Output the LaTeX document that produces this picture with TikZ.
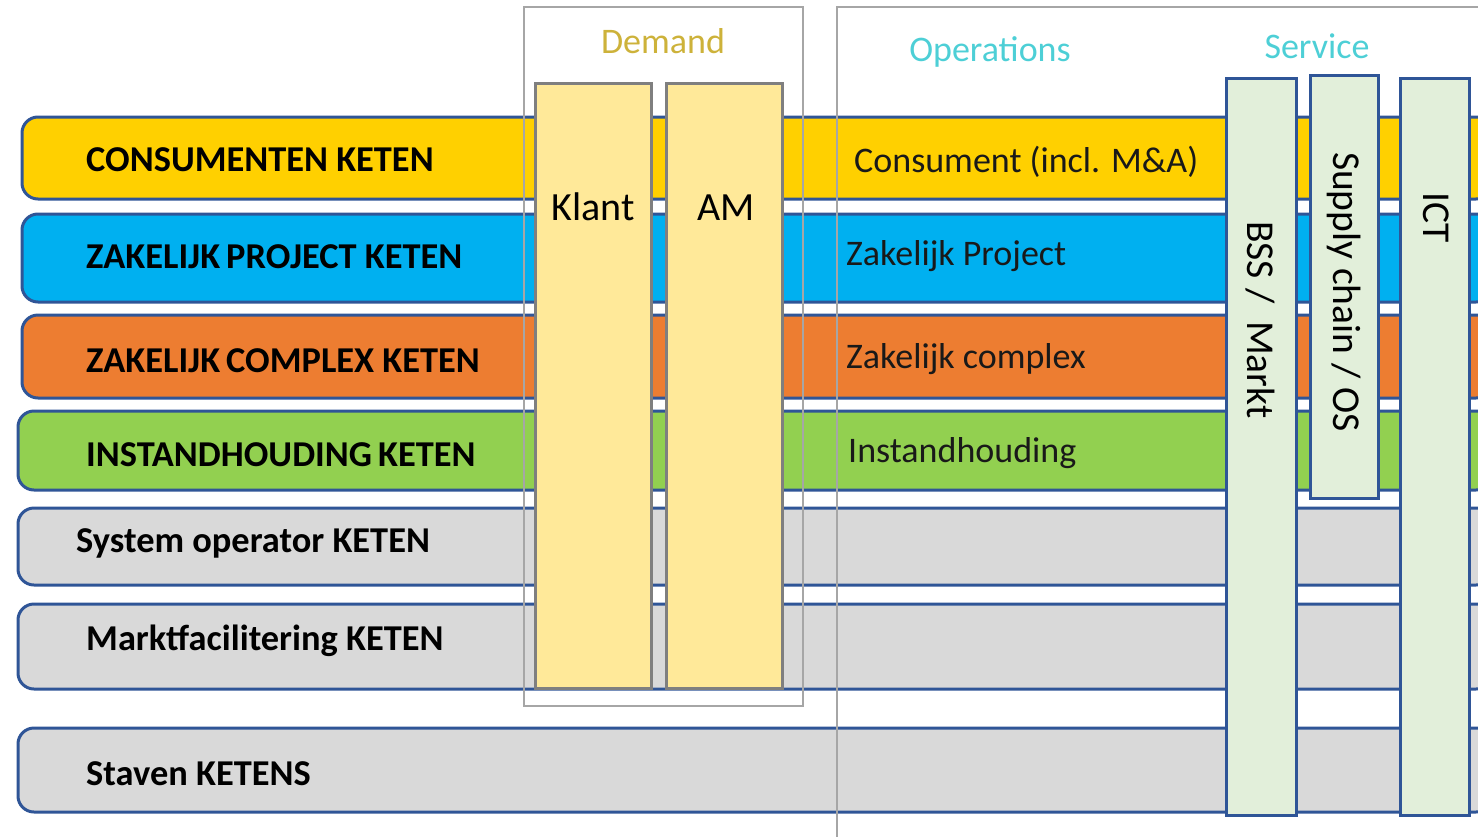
\documentclass[tikz,border=0pt]{standalone}
\usepackage{fontspec}
\setmainfont{Carlito}
\definecolor{bandline}{HTML}{2F5597}
\definecolor{cyel}{HTML}{FFD000}
\definecolor{cblue}{HTML}{00B0F0}
\definecolor{corange}{HTML}{ED7D31}
\definecolor{cgreen}{HTML}{92D050}
\definecolor{cgrey}{HTML}{D9D9D9}
\definecolor{klantfill}{HTML}{FFE999}
\definecolor{klantline}{HTML}{7F7F7F}
\definecolor{servfill}{HTML}{E2EFDA}
\definecolor{thinline}{HTML}{A6A6A6}
\definecolor{demandtxt}{HTML}{CDB23A}
\definecolor{opstxt}{HTML}{4DCFD6}
\newcommand\myfs[1]{\fontsize{#1}{#1}\selectfont}
\begin{document}
\begin{tikzpicture}[x=1pt,y=-1pt,
  band/.style={draw=bandline,line width=3pt,rounded corners=16pt},
  thinbox/.style={draw=thinline,line width=1.5pt},
  colbox/.style={draw=klantline,line width=3pt,fill=klantfill},
  servbox/.style={draw=bandline,line width=3pt,fill=servfill},
  lbl/.style={anchor=base west,inner sep=0pt,font=\myfs{36.4}\bfseries},
  optxt/.style={anchor=base west,inner sep=0pt,font=\myfs{36},text=black!90},
  coltxt/.style={anchor=base,inner sep=0pt,font=\myfs{40}},
  hdr/.style={anchor=base,inner sep=0pt,font=\myfs{36}},
  rottxt/.style={rotate=-90,inner sep=0pt,font=\myfs{39.5}}]
\useasboundingbox (0,0) rectangle (1478,836);
\begin{scope}
\clip (0,0) rectangle (1478,836);
% bands
\draw[band,fill=cyel]    (22,117) rectangle (1492,199);
\draw[band,fill=cblue]   (22,214) rectangle (1492,302);
\draw[band,fill=corange] (22,315) rectangle (1492,398);
\draw[band,fill=cgreen]  (18,411) rectangle (1492,490);
\draw[band,fill=cgrey]   (18,508) rectangle (1492,585);
\draw[band,fill=cgrey]   (18,604) rectangle (1492,689);
\draw[band,fill=cgrey]   (18,728) rectangle (1492,812);
% demand / operations frames
\draw[thinbox] (524,7) rectangle (803,706);
\draw[thinbox] (1480,7) -- (837,7) -- (837,840);
% demand columns
\draw[colbox] (535,83) rectangle (651,688);
\draw[colbox] (666,83) rectangle (782,688);
% service columns
\draw[servbox] (1226,78) rectangle (1296,815);
\draw[servbox] (1310,75) rectangle (1378,498);
\draw[servbox] (1400,78) rectangle (1469,815);
\end{scope}
% left labels
\node[lbl] (l1) at (86,171) {CONSUMENTEN KETEN};
\node[lbl] (l2) at (86,268) {ZAKELIJK\,PROJECT KETEN};
\node[lbl] (l3) at (86,372) {ZAKELIJK\,COMPLEX KETEN};
\node[lbl] (l4) at (86,466) {INSTANDHOUDING\,KETEN};
\node[lbl] (l5) at (76,552) {System operator KETEN};
\node[lbl] (l6) at (86,650) {Marktfacilitering KETEN};
\node[lbl] (l7) at (86,785) {Staven KETENS};
% headers
\node[hdr,text=demandtxt] (hd) at (663,53) {Demand};
\node[hdr,text=opstxt] (ho) at (990,61) {Operations};
\node[hdr,text=opstxt] (hs) at (1317,58) {Service};
% demand column texts
\node[coltxt] (tk) at (593,220) {Klant};
\node[coltxt] (ta) at (726,220) {AM};
% operations texts
\node[optxt] (o1) at (854,172) {Consument (incl. M\&A)};
\node[optxt] (o2) at (846,265) {Zakelijk Project};
\node[optxt] (o3) at (846,368) {Zakelijk complex};
\node[optxt] (o4) at (848,462) {Instandhouding};
% service texts
\node[rottxt] (s1) at (1260,320) {BSS /\ \ Markt};
\node[rottxt] (s2) at (1344,292) {Supply chain / OS};
\node[rottxt] (s3) at (1436,218) {ICT};
\end{tikzpicture}
\end{document}
